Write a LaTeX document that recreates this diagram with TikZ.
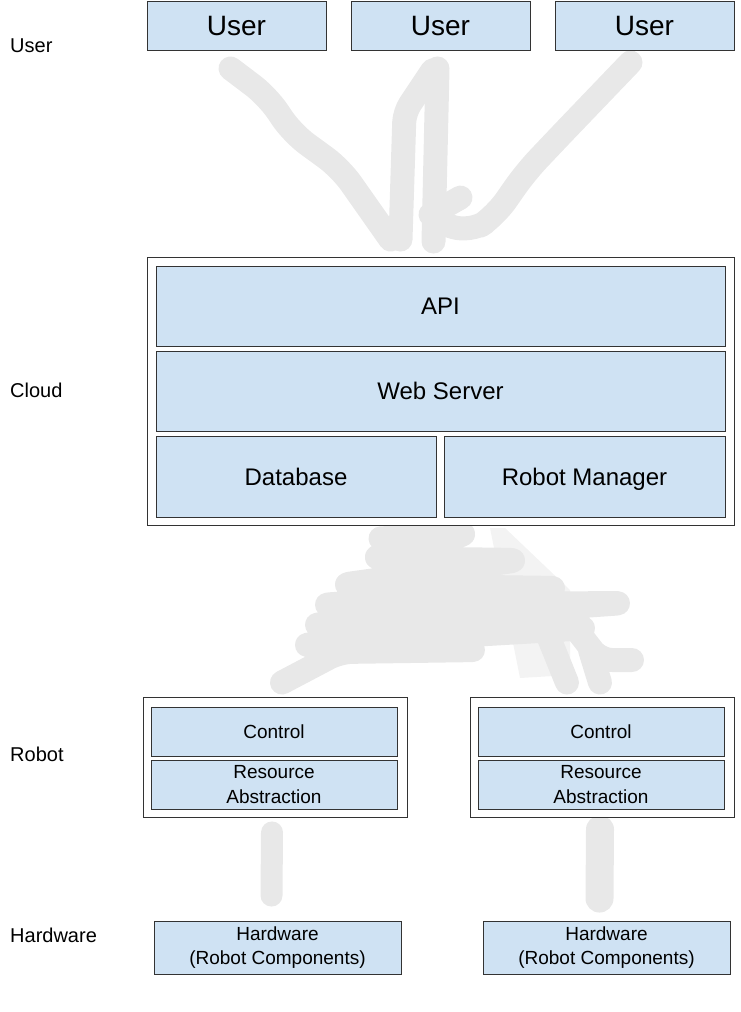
\documentclass[tikz,border=0pt]{standalone}
\usepackage{fontspec}
\setmainfont{Liberation Sans}
\usetikzlibrary{backgrounds}

\definecolor{paleblue}{HTML}{CFE2F3}
\definecolor{smudge}{HTML}{E8E8E8}
\definecolor{faintsmudge}{HTML}{F3F3F3}

\tikzset{
  block/.style={draw=black!80, fill=paleblue, line width=0.9pt, inner sep=0pt, align=center},
  frame/.style={draw=black!80, fill=white, line width=0.9pt, inner sep=0pt},
  bigtext/.style={font=\fontsize{28}{32}\selectfont, text height=20pt, text depth=0pt},
  midtext/.style={font=\fontsize{24}{28}\selectfont, text height=17pt, text depth=0pt},
  smalltext/.style={font=\fontsize{19}{25}\selectfont},
  tier/.style={anchor=base west, inner sep=0pt, font=\fontsize{20}{24}\selectfont},
  erased/.style={draw=smudge, line width=24pt, line cap=round, line join=round},
}

\begin{document}
\begin{tikzpicture}[x=1pt, y=-1pt]
  % fixed canvas
  \useasboundingbox (0,0) rectangle (741,1012);

  % tier labels on the left
  \node[tier] (userlbl) at (10,52) {User};
  \node[tier] (cloudlbl) at (10,397) {Cloud};
  \node[tier] (robotlbl) at (10,761) {Robot};
  \node[tier] (hwlbl) at (10,942) {Hardware};

  % users
  \foreach \n/\x in {1/236.5, 2/440.5, 3/644.5}
    \node[block, bigtext, minimum width=179pt, minimum height=49pt] (user\n) at (\x,25.5) {User};

  % cloud stack
  \node[frame, minimum width=587pt, minimum height=268pt] (cloud) at (440.5,391) {};
  \node[block, midtext, minimum width=569pt, minimum height=80pt] (api) at (440.5,306) {API};
  \node[block, midtext, minimum width=569pt, minimum height=80pt] (web) at (440.5,391) {Web Server};
  \node[block, midtext, minimum width=280pt, minimum height=81pt] (db) at (296,476.5) {Database};
  \node[block, midtext, minimum width=281pt, minimum height=81pt] (mgr) at (584.5,476.5) {Robot Manager};

  % robots and their hardware
  \foreach \r/\x/\h in {A/275/277.5, B/602/606.5} {
    \node[frame, minimum width=264pt, minimum height=120pt] (robot\r) at (\x,757) {};
    \node[block, smalltext, minimum width=246pt, minimum height=49pt] (ctl\r) at (\x-1,731.5) {Control};
    \node[block, smalltext, minimum width=246pt, minimum height=49pt] (res\r) at (\x-1,784.5) {Resource\\Abstraction};
    \node[block, font=\fontsize{19}{24}\selectfont, minimum width=247pt, minimum height=53pt] (hw\r) at (\h,947.5) {Hardware\\(Robot Components)};
  }

  % erased links behind the boxes
  \begin{scope}[on background layer]
    % users to cloud
    \draw[erased, rounded corners=18pt] ([shift={(-6,18)}]user1.south) -- ++(37,28) -- ++(25,37) -- ++(48,35) -- ([shift={(-50,-17)}]cloud.north);
    \draw[erased] ([shift={(-3,18)}]user2.south) -- ([shift={(-7,-15)}]cloud.north);
    \draw[erased, rounded corners=10pt] ([shift={(-8,20)}]user2.south) -- ++(-28,42) -- ([shift={(-40,-17)}]cloud.north);
    \draw[erased] ([shift={(-10,-42)}]cloud.north) -- ++(30,-17);
    \draw[erased, rounded corners=18pt] ([shift={(-14,12)}]user3.south) -- ++(-70,73) -- ++(-35,37) -- ++(-30,43) -- ++(-25,17) -- ([shift={(-5,-35)}]cloud.north);

    % cloud to robots
    \fill[faintsmudge] (490,528) -- (505,528) -- (570,590) -- (570,675) -- (520,678) -- cycle;
    \draw[erased, rounded corners=12pt] ([shift={(-60,13)}]cloud.south) -- (470,533) -- (370,558) -- (520,560) -- (340,585) -- (560,588) -- (320,605) -- (625,603) -- (310,625) -- (590,628) -- (300,645) -- (480,650) -- (340,652) -- ([shift={(7,-14)}]robotA.north);
    \draw[erased] (545,628) -- ([shift={(-35,-14)}]robotB.north);
    \draw[erased, rounded corners=12pt] (565,615) -- (600,660) -- (632,660);
    \draw[erased] (590,650) -- ([shift={(-2,-14)}]robotB.north);

    % robots to hardware
    \draw[erased, line width=22pt] ([shift={(-3,15)}]robotA.south) -- ([shift={(-6,-25)}]hwA.north);
    \draw[erased, line width=28pt] ([shift={(-2,12)}]robotB.south) -- ([shift={(-7,-22)}]hwB.north);
  \end{scope}
\end{tikzpicture}
\end{document}
